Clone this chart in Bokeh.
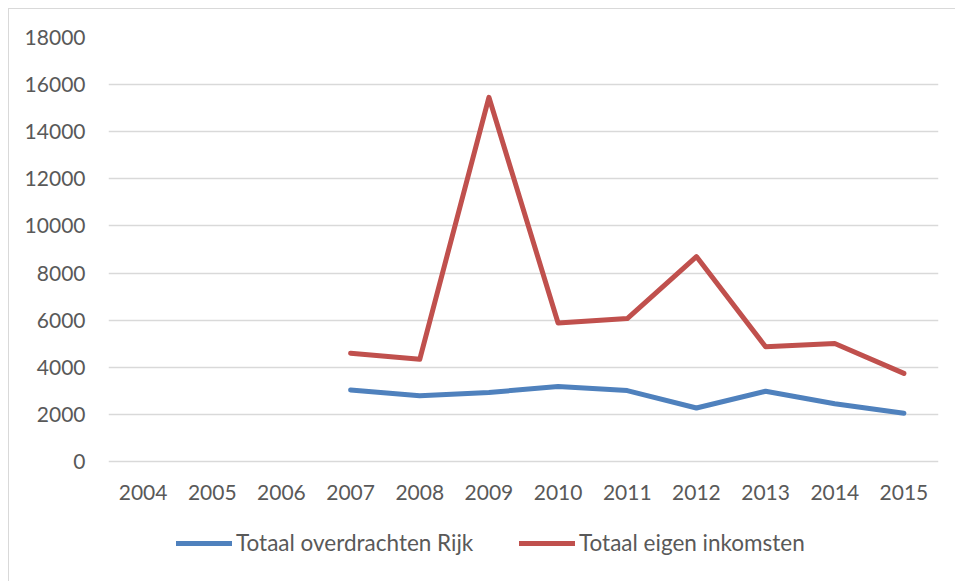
from bokeh.plotting import figure
from bokeh.models import ColumnDataSource, Legend, LegendItem, FactorRange, Range1d, FixedTicker
from bokeh.core.properties import value
from bokeh.embed import file_html
from bokeh.resources import INLINE

years = ["2004", "2005", "2006", "2007", "2008", "2009", "2010", "2011", "2012", "2013", "2014", "2015"]
nan = float("nan")
overdrachten_rijk = [nan, nan, nan, 3040, 2790, 2930, 3180, 3010, 2270, 2980, 2450, 2050]
eigen_inkomsten = [nan, nan, nan, 4600, 4340, 15460, 5880, 6070, 8700, 4870, 5010, 3740]
y_ticks = [0, 2000, 4000, 6000, 8000, 10000, 12000, 14000, 16000, 18000]
series_names = ["Totaal overdrachten Rijk", "Totaal eigen inkomsten"]

FONT = "Lato"
TXT = "#595959"
GRID = "#d9d9d9"
BLUE = "#4f81bd"
RED = "#c0504d"

source = ColumnDataSource(dict(year=years, rijk=overdrachten_rijk, eigen=eigen_inkomsten,
                               base=[y_ticks[0]] * len(years)))

# plot frame reaches to the bottom of the page so the legend (drawn inside it) is not clipped;
# the value axis runs 0..18000 over the upper part, the lower part holds year labels and legend
Y_TOP = 18000
Y_BOTTOM = -Y_TOP * 120 / 424

p = figure(
    width=955, height=581,
    x_range=FactorRange(*years, range_padding=0),
    y_range=Range1d(Y_BOTTOM, Y_TOP),
    x_axis_location=None,
    output_backend="svg", toolbar_location=None,
    min_border_left=108, min_border_right=17, min_border_top=37, min_border_bottom=0,
)
p.styles = {
    "background": "linear-gradient(#d9d9d9,#d9d9d9) 8px 8px / 1px 100% no-repeat, "
                  "linear-gradient(#d9d9d9,#d9d9d9) 8px 8px / 100% 1px no-repeat, white"
}
p.outline_line_color = None
p.border_fill_color = None
p.background_fill_color = "white"

r1 = p.line("year", "rijk", source=source, line_color=BLUE, line_width=5,
            line_cap="round", line_join="round")
r2 = p.line("year", "eigen", source=source, line_color=RED, line_width=5,
            line_cap="round", line_join="round")

# category (year) labels under the 0 line
p.text(x="year", y="base", text="year", source=source, y_offset=31,
       text_align="center", text_baseline="middle",
       text_font=value(FONT), text_font_size="21px", text_color=TXT)

for g in p.grid:
    if g.dimension == 0:
        g.grid_line_color = None
    else:
        g.grid_line_color = GRID
        g.grid_line_width = 1.3

p.yaxis.ticker = FixedTicker(ticks=y_ticks)
ax = p.yaxis[0]
ax.axis_line_color = None
ax.major_tick_line_color = None
ax.minor_tick_line_color = None
ax.major_tick_out = 0
ax.major_tick_in = 0
ax.major_label_text_font = FONT
ax.major_label_text_font_size = "21px"
ax.major_label_text_color = TXT
ax.major_label_standoff = 23
ax.formatter.use_scientific = False

legend = Legend(items=[LegendItem(label=series_names[0], renderers=[r1]),
                       LegendItem(label=series_names[1], renderers=[r2])],
                location=(68, 25))
legend.orientation = "horizontal"
legend.padding = 0
legend.margin = 0
legend.spacing = 0
legend.border_line_color = None
legend.background_fill_alpha = 0
legend.glyph_width = 56
legend.glyph_height = 20
legend.label_height = 20
legend.label_width = 283
legend.label_standoff = 4
legend.label_text_font = FONT
legend.label_text_font_size = "22.5px"
legend.label_text_color = TXT
legend.label_text_baseline = "middle"
p.add_layout(legend, "center")

open("out.html", "w").write(file_html(p, INLINE))
